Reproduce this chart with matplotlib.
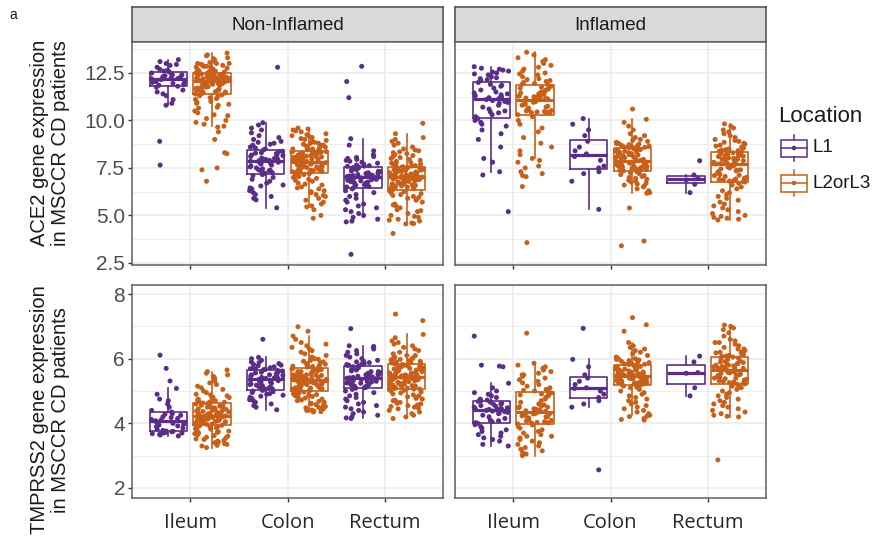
import numpy as np
import matplotlib
matplotlib.use("Agg")
import matplotlib.pyplot as plt
from matplotlib.patches import Rectangle

plt.rcParams['font.family'] = ['Liberation Sans', 'DejaVu Sans']

sites = ['Ileum', 'Colon', 'Rectum']
locations = ['L1', 'L2orL3']
conditions = ['Non-Inflamed', 'Inflamed']
loc_colors = ['#5a2d87', '#c8601a']

# ---- ACE2, non-inflamed ----
ace2_ni_ileum_l1 = [13.1, 13.0, 12.9, 12.95, 12.8, 12.7, 12.6, 12.65, 12.55, 12.5, 12.45, 12.4, 12.35, 12.3,
                    12.3, 12.25, 12.2, 12.2, 12.15, 12.1, 12.05, 12.0, 11.95, 11.9, 11.85, 11.8, 11.75, 11.6,
                    11.5, 11.4, 11.3, 11.1, 10.9, 10.8, 12.4, 12.6, 12.0, 8.9, 7.65, 13.2]
ace2_ni_ileum_l23 = [13.55, 13.45, 13.4, 13.3, 13.25, 13.2, 13.15, 13.1, 13.05, 13.0, 13.0, 12.95, 12.9, 12.85,
                     12.85, 12.8, 12.8, 12.75, 12.7, 12.7, 12.65, 12.65, 12.6, 12.6, 12.6, 12.58, 12.56, 12.55,
                     12.9, 13.0,
                     12.5, 12.5, 12.45, 12.45, 12.4, 12.4, 12.38, 12.35, 12.33, 12.3, 12.3, 12.28, 12.25, 12.25,
                     12.22, 12.2, 12.2, 12.18, 12.15, 12.15, 12.12, 12.1, 12.1, 12.09, 12.42, 12.36, 12.27, 12.19,
                     12.13, 12.47,
                     12.05, 12.0, 12.0, 11.95, 11.92, 11.9, 11.85, 11.85, 11.8, 11.78, 11.75, 11.7, 11.7, 11.65,
                     11.6, 11.6, 11.55, 11.52, 11.5, 11.48, 11.45, 11.42, 11.4, 11.4, 12.03, 11.97, 11.88, 11.68,
                     11.58, 11.44,
                     11.35, 11.3, 11.25, 11.2, 11.15, 11.1, 11.0, 10.95, 10.9, 10.85, 10.8, 10.7, 10.65, 10.5,
                     10.4, 10.3, 10.25, 10.1, 10.0, 9.9, 9.8, 9.7, 9.65, 9.4, 9.0, 8.3, 8.25, 7.5, 7.4, 6.8]
ace2_ni_colon_l1 = [9.88, 9.76, 9.6, 9.5, 9.35, 9.2, 9.1, 9.0, 8.9, 8.85, 8.8, 8.75, 8.7, 8.6, 8.55, 8.5, 8.45, 12.8,
                    8.38, 8.35, 8.3, 8.28, 8.25, 8.2, 8.18, 8.15, 8.1, 8.05, 8.02, 8.0, 7.98, 7.95, 7.92, 7.9, 7.88,
                    7.85, 7.8, 7.78, 7.75, 7.7, 7.65, 7.6, 7.55, 7.5, 7.45, 7.4, 7.38, 7.35, 7.3, 7.25, 7.22, 7.2,
                    7.15, 7.1, 7.0, 6.9, 6.8, 6.7, 6.6, 6.55, 6.45, 6.4, 6.3, 6.2, 6.1, 6.0, 5.9, 5.82, 5.4]
ace2_ni_colon_l23 = [9.6, 9.55, 9.5, 9.45, 9.4, 9.3, 9.25, 9.2, 9.15, 9.1, 9.05, 9.0, 8.95, 8.9, 8.85, 8.8, 8.8,
                     8.75, 8.7, 8.7, 8.65, 8.6, 8.6, 8.55, 8.55, 8.5, 8.5, 8.47, 8.45, 8.43,
                     8.4, 8.38, 8.35, 8.33, 8.3, 8.28, 8.25, 8.22, 8.2, 8.18, 8.15, 8.12, 8.1, 8.08, 8.05, 8.03,
                     8.0, 7.98, 7.96, 7.94, 7.92, 7.9, 7.88, 7.86, 7.84, 8.36, 8.26, 8.16, 8.06, 7.97,
                     7.8, 7.78, 7.75, 7.72, 7.7, 7.68, 7.65, 7.62, 7.6, 7.58, 7.55, 7.52, 7.5, 7.48, 7.45, 7.42,
                     7.4, 7.38, 7.35, 7.32, 7.3, 7.28, 7.25, 7.23, 7.76, 7.66, 7.56, 7.46, 7.36, 7.26,
                     7.2, 7.15, 7.1, 7.05, 7.0, 6.95, 6.9, 6.85, 6.8, 6.7, 6.65, 6.6, 6.5, 6.45, 6.4, 6.3, 6.25,
                     6.2, 6.1, 6.05, 6.0, 5.9, 5.8, 5.7, 5.6, 5.5, 5.45, 5.3, 5.0, 4.85]
ace2_ni_rectum_l1 = [9.04, 8.7, 8.4, 8.2, 8.1, 8.05, 8.0, 7.95, 7.9, 7.85, 7.8, 7.75, 7.7, 7.65, 7.62, 7.6, 12.85,
                     12.05, 11.2, 7.58,
                     7.55, 7.52, 7.5, 7.45, 7.42, 7.4, 7.35, 7.32, 7.3, 7.25, 7.22, 7.2, 7.18, 7.15, 7.12, 7.1,
                     7.08, 7.05, 7.03, 7.02,
                     7.0, 6.98, 6.95, 6.92, 6.9, 6.88, 6.85, 6.82, 6.8, 6.78, 6.75, 6.72, 6.7, 6.65, 6.62, 6.6,
                     6.55, 6.52, 6.5, 6.48,
                     6.4, 6.3, 6.2, 6.1, 6.0, 5.9, 5.8, 5.7, 5.6, 5.5, 5.4, 5.3, 5.2, 5.1, 5.0, 4.9, 4.8, 4.7,
                     4.66, 2.95]
ace2_ni_rectum_l23 = [9.3, 9.85, 9.1, 9.0, 8.9, 8.8, 8.7, 8.6, 8.5, 8.45, 8.4, 8.35, 8.3, 8.25, 8.2, 8.15, 8.1,
                      8.05, 8.0, 7.95, 7.9, 7.85, 7.8, 7.78, 7.75, 7.7, 7.68, 7.65, 7.62, 7.6,
                      7.56, 7.54, 7.52, 7.5, 7.48, 7.45, 7.43, 7.4, 7.38, 7.35, 7.33, 7.3, 7.28, 7.25, 7.23, 7.2,
                      7.18, 7.15, 7.13, 7.1, 7.08, 7.06, 7.04, 7.02, 7.47, 7.37, 7.27, 7.17, 7.07, 7.32,
                      7.0, 6.97, 6.94, 6.91, 6.88, 6.85, 6.82, 6.79, 6.76, 6.73, 6.7, 6.67, 6.64, 6.61, 6.58, 6.55,
                      6.52, 6.49, 6.46, 6.43, 6.4, 6.38, 6.36, 6.35, 6.95, 6.8, 6.65, 6.5, 6.42, 6.9,
                      6.3, 6.25, 6.2, 6.15, 6.1, 6.05, 6.0, 5.95, 5.9, 5.85, 5.8, 5.7, 5.6, 5.55, 5.5, 5.4, 5.3,
                      5.25, 5.2, 5.1, 5.0, 4.95, 4.9, 4.8, 4.75, 4.7, 4.6, 4.57, 4.55, 4.05]

# ---- ACE2, inflamed ----
ace2_inf_ileum_l1 = [12.83, 12.75, 12.7, 12.65, 12.6, 12.55, 12.5, 12.45, 12.4, 12.3, 12.25, 12.2, 12.15, 12.1,
                     12.0, 11.9, 11.85, 11.8, 11.7, 11.6, 11.5, 11.45, 11.4, 11.35, 11.3, 11.25, 11.2, 11.15,
                     11.1, 11.05, 11.0, 10.95, 10.9, 10.8, 10.7, 10.6, 10.5, 10.45, 10.4, 10.3, 10.2, 10.1,
                     10.0, 9.9, 9.8, 9.7, 9.5, 9.3, 9.0, 8.6, 8.0, 7.8, 7.3, 7.13, 5.2]
ace2_inf_ileum_l23 = [13.59, 13.45, 13.3, 13.2, 13.1, 13.0, 12.9, 12.8, 12.7, 12.6, 12.5, 12.45, 12.4, 12.3,
                      12.2, 12.15, 12.1, 12.05, 12.0, 11.95, 11.9,
                      11.85, 11.8, 11.75, 11.7, 11.65, 11.6, 11.55, 11.5, 11.45, 11.4, 11.38, 11.35, 11.3, 11.28,
                      11.25, 11.22, 11.2, 11.18, 11.16, 11.15, 11.14,
                      11.1, 11.05, 11.0, 10.95, 10.9, 10.85, 10.8, 10.75, 10.7, 10.65, 10.6, 10.58, 10.55, 10.52,
                      10.5, 10.47, 10.45, 10.43, 10.41, 10.4, 10.39,
                      10.3, 10.2, 10.0, 9.8, 9.6, 9.4, 9.1, 8.8, 8.6, 8.4, 8.2, 8.0, 7.9, 7.8, 7.6, 7.5, 7.3,
                      7.2, 7.1, 7.04, 6.52, 3.57]
ace2_inf_colon_l1 = [10.1, 9.8, 9.5, 9.2, 8.9, 8.6, 8.4, 8.24, 8.1, 7.9, 7.6, 7.5, 7.3, 7.2, 6.8, 5.32]
ace2_inf_colon_l23 = [10.6, 10.06, 9.9, 9.7, 9.5, 9.3, 9.2, 9.1, 9.0, 8.95, 8.9, 8.85, 8.8, 8.78, 8.75, 8.72,
                      8.7, 8.68, 8.66, 8.64, 8.62, 8.6, 8.58, 8.57, 8.56,
                      8.52, 8.5, 8.47, 8.45, 8.42, 8.4, 8.37, 8.35, 8.32, 8.3, 8.27, 8.25, 8.2, 8.18, 8.15, 8.12,
                      8.1, 8.05, 8.02, 8.0, 7.97, 7.95, 7.92, 7.9, 7.87,
                      7.83, 7.8, 7.78, 7.75, 7.72, 7.7, 7.68, 7.65, 7.62, 7.6, 7.58, 7.56, 7.54, 7.52, 7.5, 7.48,
                      7.46, 7.44, 7.42, 7.4, 7.38, 7.37, 7.63, 7.53, 7.73,
                      7.34, 7.3, 7.25, 7.2, 7.15, 7.1, 7.05, 7.0, 6.95, 6.9, 6.85, 6.8, 6.75, 6.7, 6.65, 6.6,
                      6.5, 6.4, 6.3, 6.2, 6.17, 5.39, 3.65, 3.4, 6.55]
ace2_inf_rectum_l1 = [7.88, 7.13, 6.95, 6.87, 6.64, 6.2]
ace2_inf_rectum_l23 = [9.82, 9.7, 9.6, 9.5, 9.4, 9.3, 9.2, 9.1, 9.0, 8.95, 8.9, 8.85, 8.8, 8.75, 8.7, 8.65, 8.6,
                       8.55, 8.5, 8.47, 8.44, 8.41, 8.38, 8.35,
                       8.3, 8.27, 8.24, 8.21, 8.18, 8.15, 8.12, 8.09, 8.06, 8.03, 8.0, 7.97, 7.94, 7.91, 7.88,
                       7.85, 7.82, 7.79, 7.76, 7.73, 7.71, 8.1, 7.95, 7.8,
                       7.68, 7.6, 7.55, 7.5, 7.45, 7.4, 7.35, 7.3, 7.25, 7.2, 7.15, 7.1, 7.05, 7.0, 6.95, 6.9,
                       6.87, 6.84, 6.81, 6.78, 6.76, 7.38, 7.12, 6.92,
                       6.7, 6.6, 6.5, 6.4, 6.3, 6.2, 6.1, 6.0, 5.9, 5.8, 5.7, 5.6, 5.5, 5.4, 5.3, 5.2, 5.1, 5.0,
                       4.95, 4.9, 4.85, 4.8, 4.76]

# ---- TMPRSS2, non-inflamed ----
tmprss2_ni_ileum_l1 = [6.11, 5.7, 5.31, 5.08, 4.9, 4.75, 4.7, 4.6, 4.5, 4.4,
                       4.35, 4.3, 4.28, 4.25, 4.2, 4.18, 4.15, 4.12, 4.1, 4.08,
                       4.05, 4.02, 4.0, 3.97, 3.95, 3.92, 3.9, 3.85, 3.82, 3.78,
                       3.76, 3.75, 3.74, 3.72, 3.7, 3.7, 3.68, 3.66, 3.64, 3.61]
tmprss2_ni_ileum_l23 = [5.65, 5.6, 5.55, 5.5, 5.45, 5.4, 5.35, 5.3, 5.25, 5.2, 5.15, 5.1, 5.05, 5.0, 4.95, 4.9,
                        4.88, 4.85, 4.82, 4.8, 4.78, 4.75, 4.72, 4.7, 4.68, 4.66, 4.65, 4.64, 4.63, 4.8,
                        4.61, 4.6, 4.58, 4.56, 4.55, 4.53, 4.52, 4.5, 4.48, 4.46, 4.45, 4.43, 4.42, 4.4, 4.38,
                        4.37, 4.35, 4.34, 4.32, 4.31, 4.3, 4.29, 4.28, 4.27, 4.26, 4.25, 4.5, 4.4, 4.33, 4.45,
                        4.23, 4.22, 4.21, 4.2, 4.19, 4.18, 4.17, 4.16, 4.15, 4.14, 4.13, 4.12, 4.11, 4.1, 4.09,
                        4.08, 4.07, 4.06, 4.05, 4.04, 4.03, 4.02, 4.01, 4.0, 3.99, 3.98, 3.97, 3.96, 4.1, 4.2,
                        3.94, 3.92, 3.9, 3.88, 3.86, 3.84, 3.82, 3.8, 3.78, 3.76, 3.74, 3.72, 3.7, 3.68, 3.65,
                        3.62, 3.6, 3.57, 3.55, 3.52, 3.5, 3.47, 3.45, 3.42, 3.4, 3.37, 3.35, 3.32, 3.3, 3.25]
tmprss2_ni_colon_l1 = [6.6, 6.04, 6.0, 5.95, 5.9, 5.88, 5.85, 5.82, 5.8, 5.78, 5.75, 5.72, 5.7, 5.69, 5.68, 5.67,
                       5.66,
                       5.64, 5.62, 5.6, 5.58, 5.56, 5.54, 5.52, 5.5, 5.48, 5.46, 5.44, 5.42, 5.41, 5.4, 5.39,
                       5.38, 5.5,
                       5.36, 5.34, 5.32, 5.3, 5.28, 5.26, 5.24, 5.22, 5.2, 5.18, 5.16, 5.14, 5.12, 5.1, 5.08,
                       5.07, 5.06,
                       5.04, 5.02, 5.0, 4.98, 4.95, 4.92, 4.9, 4.87, 4.84, 4.8, 4.77, 4.73, 4.7, 4.65, 4.6, 4.55,
                       4.5, 4.42]
tmprss2_ni_colon_l23 = [6.99, 6.85, 6.7, 6.6, 6.5, 6.45, 6.4, 6.35, 6.3, 6.25, 6.2, 6.15, 6.1, 6.05, 6.0, 5.98,
                        5.95, 5.92, 5.9, 5.88, 5.85, 5.83, 5.81, 5.8, 5.78, 5.77, 5.76, 5.75, 5.74, 5.73,
                        5.71, 5.7, 5.68, 5.66, 5.64, 5.62, 5.6, 5.58, 5.56, 5.54, 5.52, 5.5, 5.49, 5.48, 5.47,
                        5.46, 5.45, 5.44, 5.43, 5.42, 5.41, 5.4, 5.39, 5.38, 5.37, 5.36, 5.35, 5.6, 5.5, 5.4,
                        5.33, 5.32, 5.31, 5.3, 5.29, 5.28, 5.27, 5.26, 5.25, 5.24, 5.22, 5.2, 5.18, 5.16, 5.14,
                        5.12, 5.1, 5.09, 5.08, 5.07, 5.06, 5.05, 5.04, 5.03, 5.02, 5.01, 5.2, 5.15, 5.25, 5.1,
                        4.99, 4.97, 4.95, 4.93, 4.91, 4.89, 4.87, 4.85, 4.83, 4.8, 4.78, 4.75, 4.72, 4.7, 4.68,
                        4.65, 4.62, 4.6, 4.58, 4.55, 4.52, 4.5, 4.48, 4.45, 4.43, 4.41, 4.4, 4.38, 4.36, 4.35]
tmprss2_ni_rectum_l1 = [6.93, 6.4, 6.38, 6.35, 6.3, 6.25, 6.2, 6.15, 6.1, 6.05, 6.0, 5.95, 5.92, 5.9, 5.88,
                        5.85, 5.83, 5.82, 5.8, 5.79,
                        5.77, 5.75, 5.72, 5.7, 5.67, 5.65, 5.62, 5.6, 5.57, 5.55, 5.52, 5.5, 5.48, 5.46, 5.44,
                        5.42, 5.41, 5.4, 5.6, 5.5,
                        5.38, 5.36, 5.34, 5.32, 5.3, 5.28, 5.26, 5.24, 5.22, 5.2, 5.18, 5.16, 5.14, 5.12, 5.1,
                        5.09, 5.3, 5.2, 5.25, 5.15,
                        5.05, 5.0, 4.95, 4.9, 4.85, 4.8, 4.75, 4.7, 4.65, 4.6, 4.55, 4.5, 4.45, 4.4, 4.35, 4.3,
                        4.25, 4.2, 4.17, 4.15]
tmprss2_ni_rectum_l23 = [7.38, 7.18, 6.75, 6.65, 6.55, 6.5, 6.45, 6.4, 6.35, 6.3, 6.25, 6.2, 6.15, 6.1, 6.05,
                         6.02, 6.0, 5.98, 5.96, 5.94, 5.92, 5.9, 5.89, 5.88, 5.87, 5.86, 5.85, 5.84, 6.1, 6.0,
                         5.82, 5.8, 5.78, 5.76, 5.74, 5.72, 5.7, 5.68, 5.66, 5.64, 5.62, 5.6, 5.58, 5.56, 5.54,
                         5.52, 5.5, 5.49, 5.48, 5.47, 5.46, 5.45, 5.7, 5.6, 5.5, 5.8, 5.65, 5.55, 5.75, 5.47,
                         5.43, 5.41, 5.39, 5.37, 5.35, 5.33, 5.31, 5.29, 5.27, 5.25, 5.23, 5.21, 5.19, 5.17, 5.15,
                         5.13, 5.11, 5.09, 5.08, 5.07, 5.06, 5.3, 5.2, 5.1, 5.4, 5.25, 5.15, 5.35, 5.12, 5.06,
                         5.04, 5.02, 5.0, 4.97, 4.94, 4.91, 4.88, 4.85, 4.82, 4.8, 4.77, 4.75, 4.72, 4.7, 4.67,
                         4.65, 4.62, 4.6, 4.57, 4.55, 4.52, 4.5, 4.47, 4.45, 4.4, 4.35, 4.3, 4.25, 4.2, 4.15]

# ---- TMPRSS2, inflamed ----
tmprss2_inf_ileum_l1 = [6.7, 5.8, 5.77, 5.75, 5.24, 5.1, 5.0, 4.95, 4.9, 4.85, 4.8, 4.75, 4.72, 4.7,
                        4.68, 4.65, 4.62, 4.6, 4.58, 4.55, 4.52, 4.5, 4.48, 4.46, 4.45, 4.44, 4.43, 4.42,
                        4.4, 4.38, 4.36, 4.34, 4.32, 4.3, 4.25, 4.2, 4.15, 4.1, 4.08, 4.05, 4.02, 4.0,
                        3.96, 3.9, 3.85, 3.8, 3.75, 3.7, 3.65, 3.6, 3.55, 3.5, 3.45, 3.35, 3.3]
tmprss2_inf_ileum_l23 = [6.79, 5.86, 5.8, 5.75, 5.7, 5.65, 5.6, 5.55, 5.5, 5.45, 5.4, 5.35, 5.3, 5.25, 5.2,
                         5.15, 5.1, 5.05, 5.02, 5.0, 5.5,
                         4.97, 4.94, 4.91, 4.88, 4.85, 4.8, 4.75, 4.7, 4.65, 4.6, 4.57, 4.54, 4.51, 4.48, 4.45,
                         4.43, 4.41, 4.39, 4.38, 4.37, 4.5,
                         4.35, 4.33, 4.31, 4.29, 4.27, 4.25, 4.23, 4.21, 4.19, 4.17, 4.15, 4.13, 4.11, 4.09, 4.07,
                         4.05, 4.03, 4.02, 4.01, 4.3, 4.2,
                         3.98, 3.95, 3.9, 3.85, 3.8, 3.75, 3.7, 3.65, 3.6, 3.55, 3.5, 3.45, 3.4, 3.35, 3.3, 3.25,
                         3.2, 3.15, 3.1, 3.05, 3.0, 3.6]
tmprss2_inf_colon_l1 = [6.94, 5.98, 5.75, 5.5, 5.4, 5.3, 5.2, 5.1, 5.08, 5.0, 4.9, 4.8, 4.7, 4.6, 4.5, 2.56]
tmprss2_inf_colon_l23 = [7.27, 7.05, 6.85, 6.5, 6.4, 6.35, 6.3, 6.25, 6.2, 6.15, 6.1, 6.05, 6.0, 5.98, 5.96,
                         5.94, 5.92, 5.9, 5.88, 5.86, 5.85, 5.84, 5.83, 5.82, 6.0,
                         5.8, 5.78, 5.76, 5.74, 5.72, 5.7, 5.68, 5.66, 5.64, 5.62, 5.6, 5.58, 5.56, 5.54, 5.52,
                         5.5, 5.49, 5.48, 5.7, 5.6, 5.65, 5.55, 5.75, 5.51, 5.59,
                         5.45, 5.43, 5.41, 5.39, 5.37, 5.35, 5.33, 5.31, 5.29, 5.27, 5.25, 5.23, 5.21, 5.19, 5.18,
                         5.4, 5.3, 5.2, 5.35, 5.25, 5.42, 5.32, 5.22, 5.38, 5.28,
                         5.15, 5.12, 5.1, 5.05, 5.0, 4.95, 4.9, 4.85, 4.8, 4.75, 4.7, 4.65, 4.6, 4.55, 4.5, 4.45,
                         4.4, 4.35, 4.3, 4.25, 4.22, 4.21, 4.15, 4.12, 4.1]
tmprss2_inf_rectum_l1 = [6.08, 5.9, 5.57, 5.55, 5.1, 4.85]
tmprss2_inf_rectum_l23 = [7.04, 7.0, 6.95, 6.9, 6.8, 6.7, 6.6, 6.55, 6.5, 6.45, 6.4, 6.35, 6.3, 6.25, 6.2, 6.18,
                          6.15, 6.12, 6.1, 6.08, 6.07, 6.3, 6.5, 6.2,
                          6.05, 6.02, 6.0, 5.97, 5.94, 5.91, 5.88, 5.85, 5.82, 5.8, 5.78, 5.76, 5.74, 5.72, 5.7,
                          5.68, 5.66, 5.65, 5.64, 5.9, 5.8, 5.7, 5.85, 5.75,
                          5.62, 5.6, 5.58, 5.56, 5.54, 5.52, 5.5, 5.48, 5.46, 5.44, 5.42, 5.4, 5.38, 5.36, 5.34,
                          5.32, 5.3, 5.28, 5.26, 5.24, 5.22, 5.21, 5.5, 5.4,
                          5.18, 5.15, 5.1, 5.05, 5.0, 4.95, 4.9, 4.85, 4.8, 4.75, 4.7, 4.65, 4.6, 4.55, 4.5, 4.45,
                          4.4, 4.35, 4.3, 4.25, 4.22, 4.2, 2.87]

ace2_panels = [
    [[ace2_ni_ileum_l1, ace2_ni_ileum_l23], [ace2_ni_colon_l1, ace2_ni_colon_l23],
     [ace2_ni_rectum_l1, ace2_ni_rectum_l23]],
    [[ace2_inf_ileum_l1, ace2_inf_ileum_l23], [ace2_inf_colon_l1, ace2_inf_colon_l23],
     [ace2_inf_rectum_l1, ace2_inf_rectum_l23]],
]
tmprss2_panels = [
    [[tmprss2_ni_ileum_l1, tmprss2_ni_ileum_l23], [tmprss2_ni_colon_l1, tmprss2_ni_colon_l23],
     [tmprss2_ni_rectum_l1, tmprss2_ni_rectum_l23]],
    [[tmprss2_inf_ileum_l1, tmprss2_inf_ileum_l23], [tmprss2_inf_colon_l1, tmprss2_inf_colon_l23],
     [tmprss2_inf_rectum_l1, tmprss2_inf_rectum_l23]],
]

W, H = 874, 546
DODGE = 0.225
BOX_W = 0.385
JIT = 0.18
BORDER = '#5f5f5f'
GRID = '#ebebeb'


def px_axes(fig, x0, y0, x1, y1):
    # pixel box (top-left origin) -> figure axes
    return fig.add_axes([x0 / W, 1 - y1 / H, (x1 - x0) / W, (y1 - y0) / H])


def jitter(n, seed):
    # deterministic horizontal scatter for the points, in [-JIT, JIT]
    k = np.arange(n) + 1.0
    u = np.abs(np.sin(k * 12.9898 + seed * 78.233) * 43758.5453) % 1.0
    return (u - 0.5) * 2 * JIT


def draw_panel(ax, groups, ylim, major, minor, show_y, show_x, seed0):
    ax.set_xlim(0.4, 3.6)
    ax.set_ylim(*ylim)
    ax.set_yticks(major)
    ax.set_yticks(minor, minor=True)
    ax.set_xticks([1, 2, 3])
    ax.set_axisbelow(True)
    ax.grid(True, which='major', color=GRID, lw=1.1)
    ax.grid(True, which='minor', axis='y', color=GRID, lw=0.6)
    for s in ax.spines.values():
        s.set_color(BORDER)
        s.set_linewidth(1.1)
    for si, pair in enumerate(groups):
        for li, vals in enumerate(pair):
            c = loc_colors[li]
            pos = si + 1 + (-DODGE if li == 0 else DODGE)
            ax.boxplot([vals], positions=[pos], widths=BOX_W, whis=1.5, showfliers=False,
                       showcaps=False, manage_ticks=False,
                       boxprops=dict(color=c, lw=1.2),
                       whiskerprops=dict(color=c, lw=1.2),
                       medianprops=dict(color=c, lw=2.3, solid_capstyle='butt'))
            ax.scatter(pos + jitter(len(vals), seed0 + si * 2 + li), vals, s=13, color=c,
                       edgecolors='none', zorder=3)
    ax.tick_params(axis='both', which='major', length=3, width=1.0, color='#333333')
    ax.tick_params(axis='y', which='minor', length=0)
    ax.tick_params(axis='y', labelsize=15, labelcolor='#4d4d4d', pad=2, left=show_y, labelleft=show_y)
    if show_x:
        ax.set_xticklabels(sites, fontsize=14.5, color='#262626', family=['Open Sans', 'DejaVu Sans'])
        ax.tick_params(axis='x', pad=8)
    else:
        ax.set_xticklabels([])


fig = plt.figure(figsize=(W / 100, H / 100), dpi=100)

col_x = [(132, 443), (455, 766)]
top_y = (42, 265)
bot_y = (285, 498)

for ci in range(2):
    x0, x1 = col_x[ci]
    # facet strip
    sax = px_axes(fig, x0, 7, x1, 42)
    sax.set_facecolor('#d9d9d9')
    sax.set_xticks([])
    sax.set_yticks([])
    for s in sax.spines.values():
        s.set_color('#4a4a4a')
        s.set_linewidth(1.1)
    sax.text(0.5, 0.48, conditions[ci], transform=sax.transAxes, ha='center', va='center',
             fontsize=13.5, color='#1a1a1a')

    ax = px_axes(fig, x0, top_y[0], x1, top_y[1])
    draw_panel(ax, ace2_panels[ci], (2.39, 14.13), [2.5, 5.0, 7.5, 10.0, 12.5],
               [3.75, 6.25, 8.75, 11.25, 13.75], ci == 0, False, 10 * ci + 1)
    if ci == 0:
        ax.set_yticklabels(['2.5', '5.0', '7.5', '10.0', '12.5'])

    ax = px_axes(fig, x0, bot_y[0], x1, bot_y[1])
    draw_panel(ax, tmprss2_panels[ci], (1.69, 8.28), [2, 4, 6, 8], [3, 5, 7], ci == 0, True,
               10 * ci + 1)

fig.text(50 / W, 1 - 143 / H, 'ACE2 gene expression\nin MSCCR CD patients', rotation=90,
         ha='center', va='center', fontsize=14.5, color='#1a1a1a', linespacing=1.15)
fig.text(50 / W, 1 - 410 / H, 'TMPRSS2 gene expression\nin MSCCR CD patients', rotation=90,
         ha='center', va='center', fontsize=14.5, color='#1a1a1a', linespacing=1.15)
fig.text(9 / W, 1 - 15 / H, 'a', ha='left', va='center', fontsize=10, color='#1a1a1a')

# legend drawn on an overlay in pixel units
lg = fig.add_axes([0, 0, 1, 1])
lg.set_xlim(0, W)
lg.set_ylim(H, 0)
lg.axis('off')
lg.text(778, 116, 'Location', ha='left', va='center', fontsize=16, color='#1a1a1a')
for li, cy in enumerate([148, 183]):
    c = loc_colors[li]
    lg.add_patch(Rectangle((781, cy - 8.5), 26, 17, fill=False, edgecolor=c, lw=1.1))
    lg.plot([781, 807], [cy, cy], color=c, lw=1.1)
    lg.plot([794, 794], [cy - 13, cy - 8.5], color=c, lw=1.1)
    lg.plot([794, 794], [cy + 8.5, cy + 13], color=c, lw=1.1)
    lg.scatter([794], [cy], s=11, color=c, edgecolors='none')
    lg.text(812, cy, locations[li], ha='left', va='center', fontsize=13.5, color='#1a1a1a')

fig.savefig('out.png', dpi=100)
